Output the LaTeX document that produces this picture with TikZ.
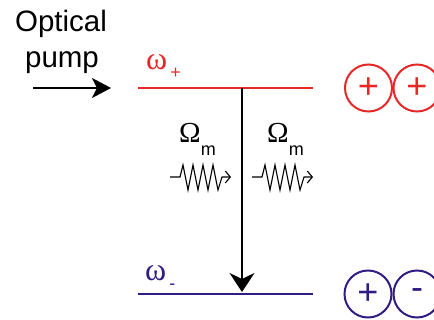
\documentclass[tikz,border=0pt]{standalone}
\usepackage{fontspec}
\setmainfont{Liberation Sans}
\newfontfamily\greekfont{Liberation Serif}
\usetikzlibrary{arrows.meta}
\definecolor{lvred}{RGB}{232,40,40}
\definecolor{lvblue}{RGB}{48,28,130}
\tikzset{
  lbl/.style={inner sep=0pt, anchor=base west},
  level/.style={line width=1.6pt},
  spin/.style={circle, line width=2pt, minimum size=47pt, inner sep=0pt, font=\fontsize{36}{36}\selectfont},
  spring/.style={line width=1.1pt, line join=miter},
  bigarrow/.style={line width=2.2pt, -{Stealth[length=19pt,width=25pt,inset=6pt]}},
}
\begin{document}
\begin{tikzpicture}[x=1pt,y=-1pt]
\useasboundingbox (0,0) rectangle (434,320);
% text
\node[inner sep=0pt, anchor=base] (opt) at (61,32) {\fontsize{29.5}{29.5}\selectfont Optical};
\node[inner sep=0pt, anchor=base] (pump) at (62,68) {\fontsize{29.5}{29.5}\selectfont pump};
% pump arrow
\coordinate (pa) at (33,88);
\coordinate (pb) at (111,88);
\draw[line width=2pt, -{Stealth[length=19pt,width=20pt,inset=5pt]}] (pa) -- (pb);
% levels
\coordinate (up1) at (138,88);
\coordinate (up2) at (313,88);
\coordinate (lo1) at (138,294);
\coordinate (lo2) at (313,294);
\draw[level, lvred] (up1) -- (up2);
\draw[level, lvblue] (lo1) -- (lo2);
\node[lbl, text=lvred] (wp) at (146,70) {\greekfont\fontsize{32}{32}\selectfont ω\raisebox{-9pt}{\rmfamily\fontsize{18}{18}\selectfont\,+}};
\node[lbl, text=lvblue] (wm) at (145,281) {\greekfont\fontsize{32}{32}\selectfont ω\raisebox{-9pt}{\rmfamily\fontsize{18}{18}\selectfont\,-}};
% transition arrow
\coordinate (ta) at (242,88);
\coordinate (tb) at (242,292);
\draw[bigarrow] (ta) -- (tb);
% Omega labels
\node[lbl] (om1) at (179,143) {\greekfont\fontsize{29}{29}\selectfont Ω\raisebox{-13pt}{\rmfamily\fontsize{18}{18}\selectfont m}};
\node[lbl] (om2) at (267,143) {\greekfont\fontsize{29}{29}\selectfont Ω\raisebox{-13pt}{\rmfamily\fontsize{18}{18}\selectfont m}};
% springs
\foreach \sx [count=\i] in {170,252}{
  \draw[spring, -{Straight Barb[length=5pt,width=12pt]}]
    (\sx,177) -- ++(10,0) -- ++(3,-12) -- ++(5,25) -- ++(5,-25) -- ++(5,25) -- ++(5,-25) -- ++(5,25) -- ++(5,-25) -- ++(5,25) -- ++(4,-13) -- ++(9,0);
}
% spin circles
\node[spin, draw=lvred, text=lvred] (r1) at (368.5,88) {+};
\node[spin, draw=lvred, text=lvred] (r2) at (417,88) {+};
\node[spin, draw=lvblue, text=lvblue] (b1) at (368,294) {+};
\node[spin, draw=lvblue, text=lvblue] (b2) at (417,294) {-};
\end{tikzpicture}
\end{document}
